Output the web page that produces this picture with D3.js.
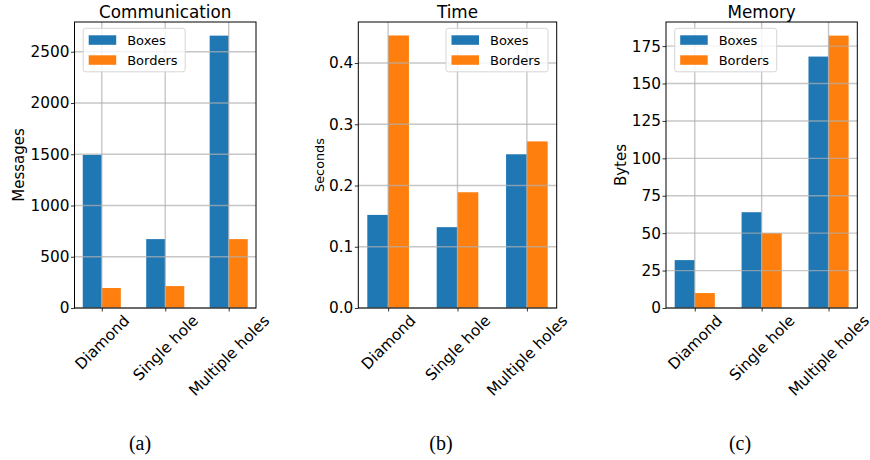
<!DOCTYPE html>
<html><head><meta charset="utf-8">
<script src="https://cdn.jsdelivr.net/npm/d3@7"></script>
<style>body{margin:0;background:#fff}svg{display:block}</style>
</head><body>
<svg id="c" width="870" height="460"></svg>
<script>
const categories = ["Diamond", "Single hole", "Multiple holes"];
const seriesNames = ["Boxes", "Borders"];
const commBoxes = [1493, 672, 2657];
const commBorders = [195, 214, 672];
const timeBoxes = [0.152, 0.132, 0.251];
const timeBorders = [0.445, 0.189, 0.272];
const memBoxes = [32, 64, 168];
const memBorders = [10, 50, 182];
const commTicks = [0, 500, 1000, 1500, 2000, 2500];
const timeTicks = [0, 0.1, 0.2, 0.3, 0.4];
const memTicks = [0, 25, 50, 75, 100, 125, 150, 175];
const titles = ["Communication", "Time", "Memory"];
const yLabels = ["Messages", "Seconds", "Bytes"];
const captions = ["(a)", "(b)", "(c)"];

const colors = ["#1f77b4", "#ff7f0e"];
const svg = d3.select("#c");
const font = "DejaVu Sans, sans-serif";
const tickFs = 15.3;

const panels = [
  {left:74.5, right:256, boxes:commBoxes, borders:commBorders, ticks:commTicks, fmt:d3.format("d"), ymax:2790, legend:"left", ylx:19, ylsize:15, cap:140},
  {left:358.3, right:556.7, boxes:timeBoxes, borders:timeBorders, ticks:timeTicks, fmt:d3.format(".1f"), ymax:0.467, legend:"right", ylx:319, ylsize:12.8, cap:441},
  {left:666, right:857.3, boxes:memBoxes, borders:memBorders, ticks:memTicks, fmt:d3.format("d"), ymax:191.1, legend:"left", ylx:621, ylsize:15, cap:740}
];
const plotTop = 22, plotBottom = 308;

panels.forEach((p, i) => {
  const x = d3.scaleLinear().domain([-0.43, 2.43]).range([p.left, p.right]);
  const y = d3.scaleLinear().domain([0, p.ymax]).range([plotBottom, plotTop]);
  const g = svg.append("g");
  const bw = 0.3;
  const series = [p.boxes, p.borders];
  series.forEach((vals, s) => {
    g.selectAll(null).data(vals).enter().append("rect")
      .attr("x", (d, k) => x(k - bw + s * bw))
      .attr("width", x(bw) - x(0))
      .attr("y", d => y(d))
      .attr("height", d => y(0) - y(d))
      .attr("fill", colors[s]);
  });
  // grid on top
  g.selectAll(null).data(p.ticks).enter().append("line")
    .attr("x1", p.left).attr("x2", p.right)
    .attr("y1", d => y(d)).attr("y2", d => y(d))
    .attr("stroke", "#b0b0b0").attr("stroke-width", 1.4).attr("opacity", 0.7);
  g.selectAll(null).data(categories).enter().append("line")
    .attr("x1", (d, k) => x(k)).attr("x2", (d, k) => x(k))
    .attr("y1", plotTop).attr("y2", plotBottom)
    .attr("stroke", "#b0b0b0").attr("stroke-width", 1.4).attr("opacity", 0.7);
  // axes
  const ya = d3.axisLeft(y).tickValues(p.ticks).tickFormat(p.fmt).tickSize(3.5).tickPadding(1.5);
  const yg = g.append("g").attr("transform", `translate(${p.left},0)`).call(ya);
  yg.select(".domain").remove();
  yg.selectAll("text").style("font-family", font).style("font-size", tickFs + "px").attr("fill", "#000");
  yg.selectAll("line").attr("stroke", "#000").attr("stroke-width", 0.8);
  const xa = d3.axisBottom(x).tickValues([0, 1, 2]).tickFormat(k => categories[k]).tickSize(3.5);
  const xg = g.append("g").attr("transform", `translate(0,${plotBottom})`).call(xa);
  xg.select(".domain").remove();
  xg.selectAll("line").attr("stroke", "#000").attr("stroke-width", 0.8);
  xg.selectAll("text").style("font-family", font).style("font-size", tickFs + "px").attr("fill", "#000")
    .attr("text-anchor", "middle").attr("dy", null).attr("dominant-baseline", "central")
    .each(function(d) {
      const w = this.getComputedTextLength();
      const h = tickFs * 0.75;
      const H = (w + h) * Math.SQRT1_2;
      const cy = 6 + H / 2;
      d3.select(this).attr("y", 0).attr("transform", `translate(0,${cy}) rotate(-45)`);
    });
  // frame
  g.append("rect").attr("x", p.left).attr("y", plotTop).attr("width", p.right - p.left).attr("height", plotBottom - plotTop)
    .attr("fill", "none").attr("stroke", "#000").attr("stroke-width", 1);
  // title
  g.append("text").attr("x", (p.left + p.right) / 2).attr("y", 18).attr("text-anchor", "middle")
    .style("font-family", font).style("font-size", "16.8px").text(titles[i]);
  // y label
  g.append("text").attr("transform", `translate(${p.ylx},${(plotTop + plotBottom) / 2}) rotate(-90)`)
    .attr("text-anchor", "middle").attr("dominant-baseline", "central")
    .style("font-family", font).style("font-size", p.ylsize + "px").text(yLabels[i]);
  // legend
  const lw = 102, lh = 43.5;
  const lx = p.legend === "left" ? p.left + 8.7 : p.right - 8.7 - lw;
  const ly = 28.3;
  const lg = g.append("g").attr("transform", `translate(${lx},${ly})`);
  lg.append("rect").attr("width", lw).attr("height", lh).attr("rx", 2.5)
    .attr("fill", "#fff").attr("fill-opacity", 0.8).attr("stroke", "#d6d6d6").attr("stroke-width", 1);
  seriesNames.forEach((n, s) => {
    lg.append("rect").attr("x", 5.5).attr("y", 7 + s * 20).attr("width", 27.5).attr("height", 9.5).attr("fill", colors[s]);
    lg.append("text").attr("x", 44).attr("y", 12 + s * 20).attr("dominant-baseline", "central")
      .style("font-family", font).style("font-size", "13px").text(n);
  });
  // caption
  svg.append("text").attr("x", p.cap).attr("y", 450).attr("text-anchor", "middle")
    .style("font-family", "Liberation Serif, serif").style("font-size", "20px").text(captions[i]);
});
</script>
</body></html>
